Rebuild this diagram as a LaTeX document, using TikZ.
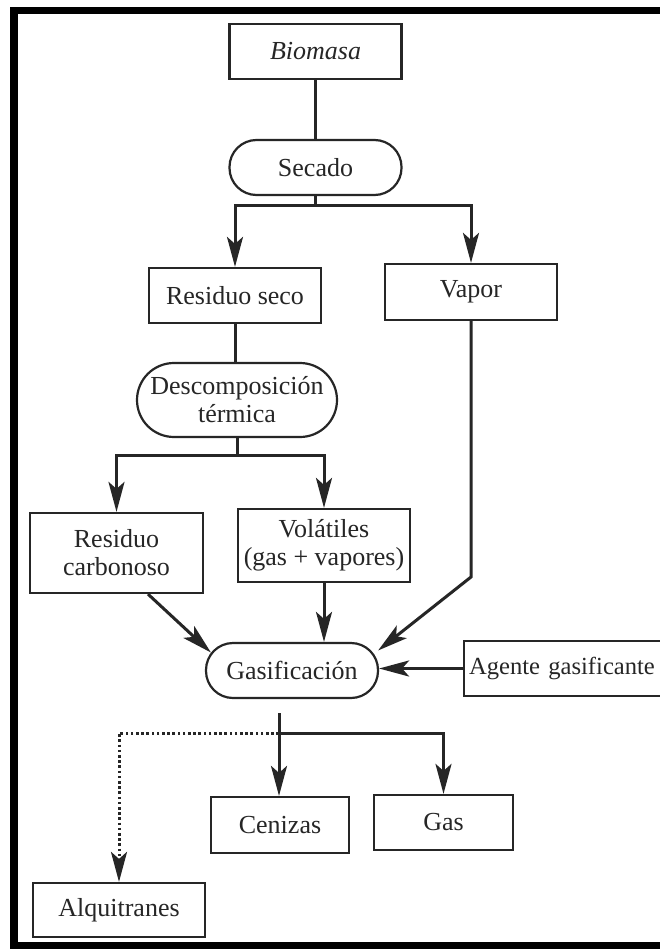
\documentclass[tikz,border=0pt]{standalone}
\usepackage{fontspec}
\setmainfont{Liberation Serif}
\usetikzlibrary{arrows.meta,calc}
\begin{document}
\begin{tikzpicture}[x=1pt,y=-1pt,
  font=\fontsize{26}{28}\selectfont,
  box/.style={draw=black!85, line width=2.2pt, minimum width=172pt, minimum height=55pt, inner sep=2pt, align=center, fill=white, text=black!85},
  pill/.style={box, rounded corners=27pt},
  link/.style={draw=black!85, line width=3pt},
  arr/.style={link, -{Stealth[length=30pt,width=16pt,inset=7pt]}},
  dotline/.style={arr, line width=3pt, dash pattern=on 2.6pt off 2.6pt},
]
\useasboundingbox (0,0) rectangle (660,949);
\fill[white] (0,0) rectangle (660,949);
% frame
\fill[black] (10,7) rectangle (660,14);
\fill[black] (10,7) rectangle (18,949);
\fill[black] (10,942) rectangle (660,949);

% nodes
\node[box] (bio) at (315.5,51.5) {\itshape Biomasa};
\node[pill] (sec) at (315.5,167.5) {Secado};
\node[box] (rseco) at (235,295.5) {Residuo seco};
\node[box, minimum height=56pt] (vap) at (471,292) {Vapor};
\node[pill, minimum width=200pt, minimum height=74pt, rounded corners=37pt] (desc) at (237,400) {Descomposición\\térmica};
\node[box, minimum height=80pt, minimum width=173pt] (rcarb) at (116.5,553) {Residuo\\carbonoso};
\node[box, minimum height=73pt] (vol) at (324,545.5) {Volátiles\\(gas + vapores)};
\node[pill] (gasif) at (292,670.5) {Gasificación};
\node[box, anchor=west, minimum width=215pt, text width=205pt, align=left, inner xsep=2pt, font=\fontsize{24.6}{27}\selectfont] (agente) at (463,668.5) {Agente gasificante};
\node[box, minimum width=138pt, minimum height=56pt] (cen) at (280,825) {Cenizas};
\node[box, minimum width=139pt] (gas) at (443.5,822.5) {Gas};
\node[box, minimum height=54pt] (alq) at (119,910) {Alquitranes};

% coordinates
\coordinate (s1) at (316,206);
\coordinate (s2) at (237,455);
\coordinate (vbend) at (471,577);
\coordinate (s3) at (279,713);
\coordinate (s3b) at (279,733);

% connectors
\draw[link] (bio.south) -- (sec.north);
\draw[link] (sec.south) -- (sec.south |- s1);
\draw[arr] (sec.south |- s1) -| (rseco.north);
\draw[arr] (sec.south |- s1) -| (vap.north);

\draw[link] (rseco.south) -- (rseco.south |- desc.north);
\draw[link] (desc.south) -- (desc.south |- s2);
\draw[arr] (desc.south |- s2) -| (rcarb.north);
\draw[arr] (desc.south |- s2) -| (vol.north);

\draw[arr] (vap.south) -- (vap.south |- vbend) -- ($(gasif.east)+(-1,-20)$);
\draw[arr] ([xshift=31.5pt]rcarb.south) -- ($(gasif.west)+(6,-18)$);
\draw[arr] (vol.south) -- (vol.south |- gasif.north);
\draw[arr] (agente.west) -- (agente.west -| gasif.east);

\draw[link] (s3) -- (s3b);
\draw[arr] (s3b) -- (s3b |- cen.north);
\draw[arr] (s3b) -| (gas.north);
\draw[dotline] (s3b) -| (alq.north);
\end{tikzpicture}
\end{document}
